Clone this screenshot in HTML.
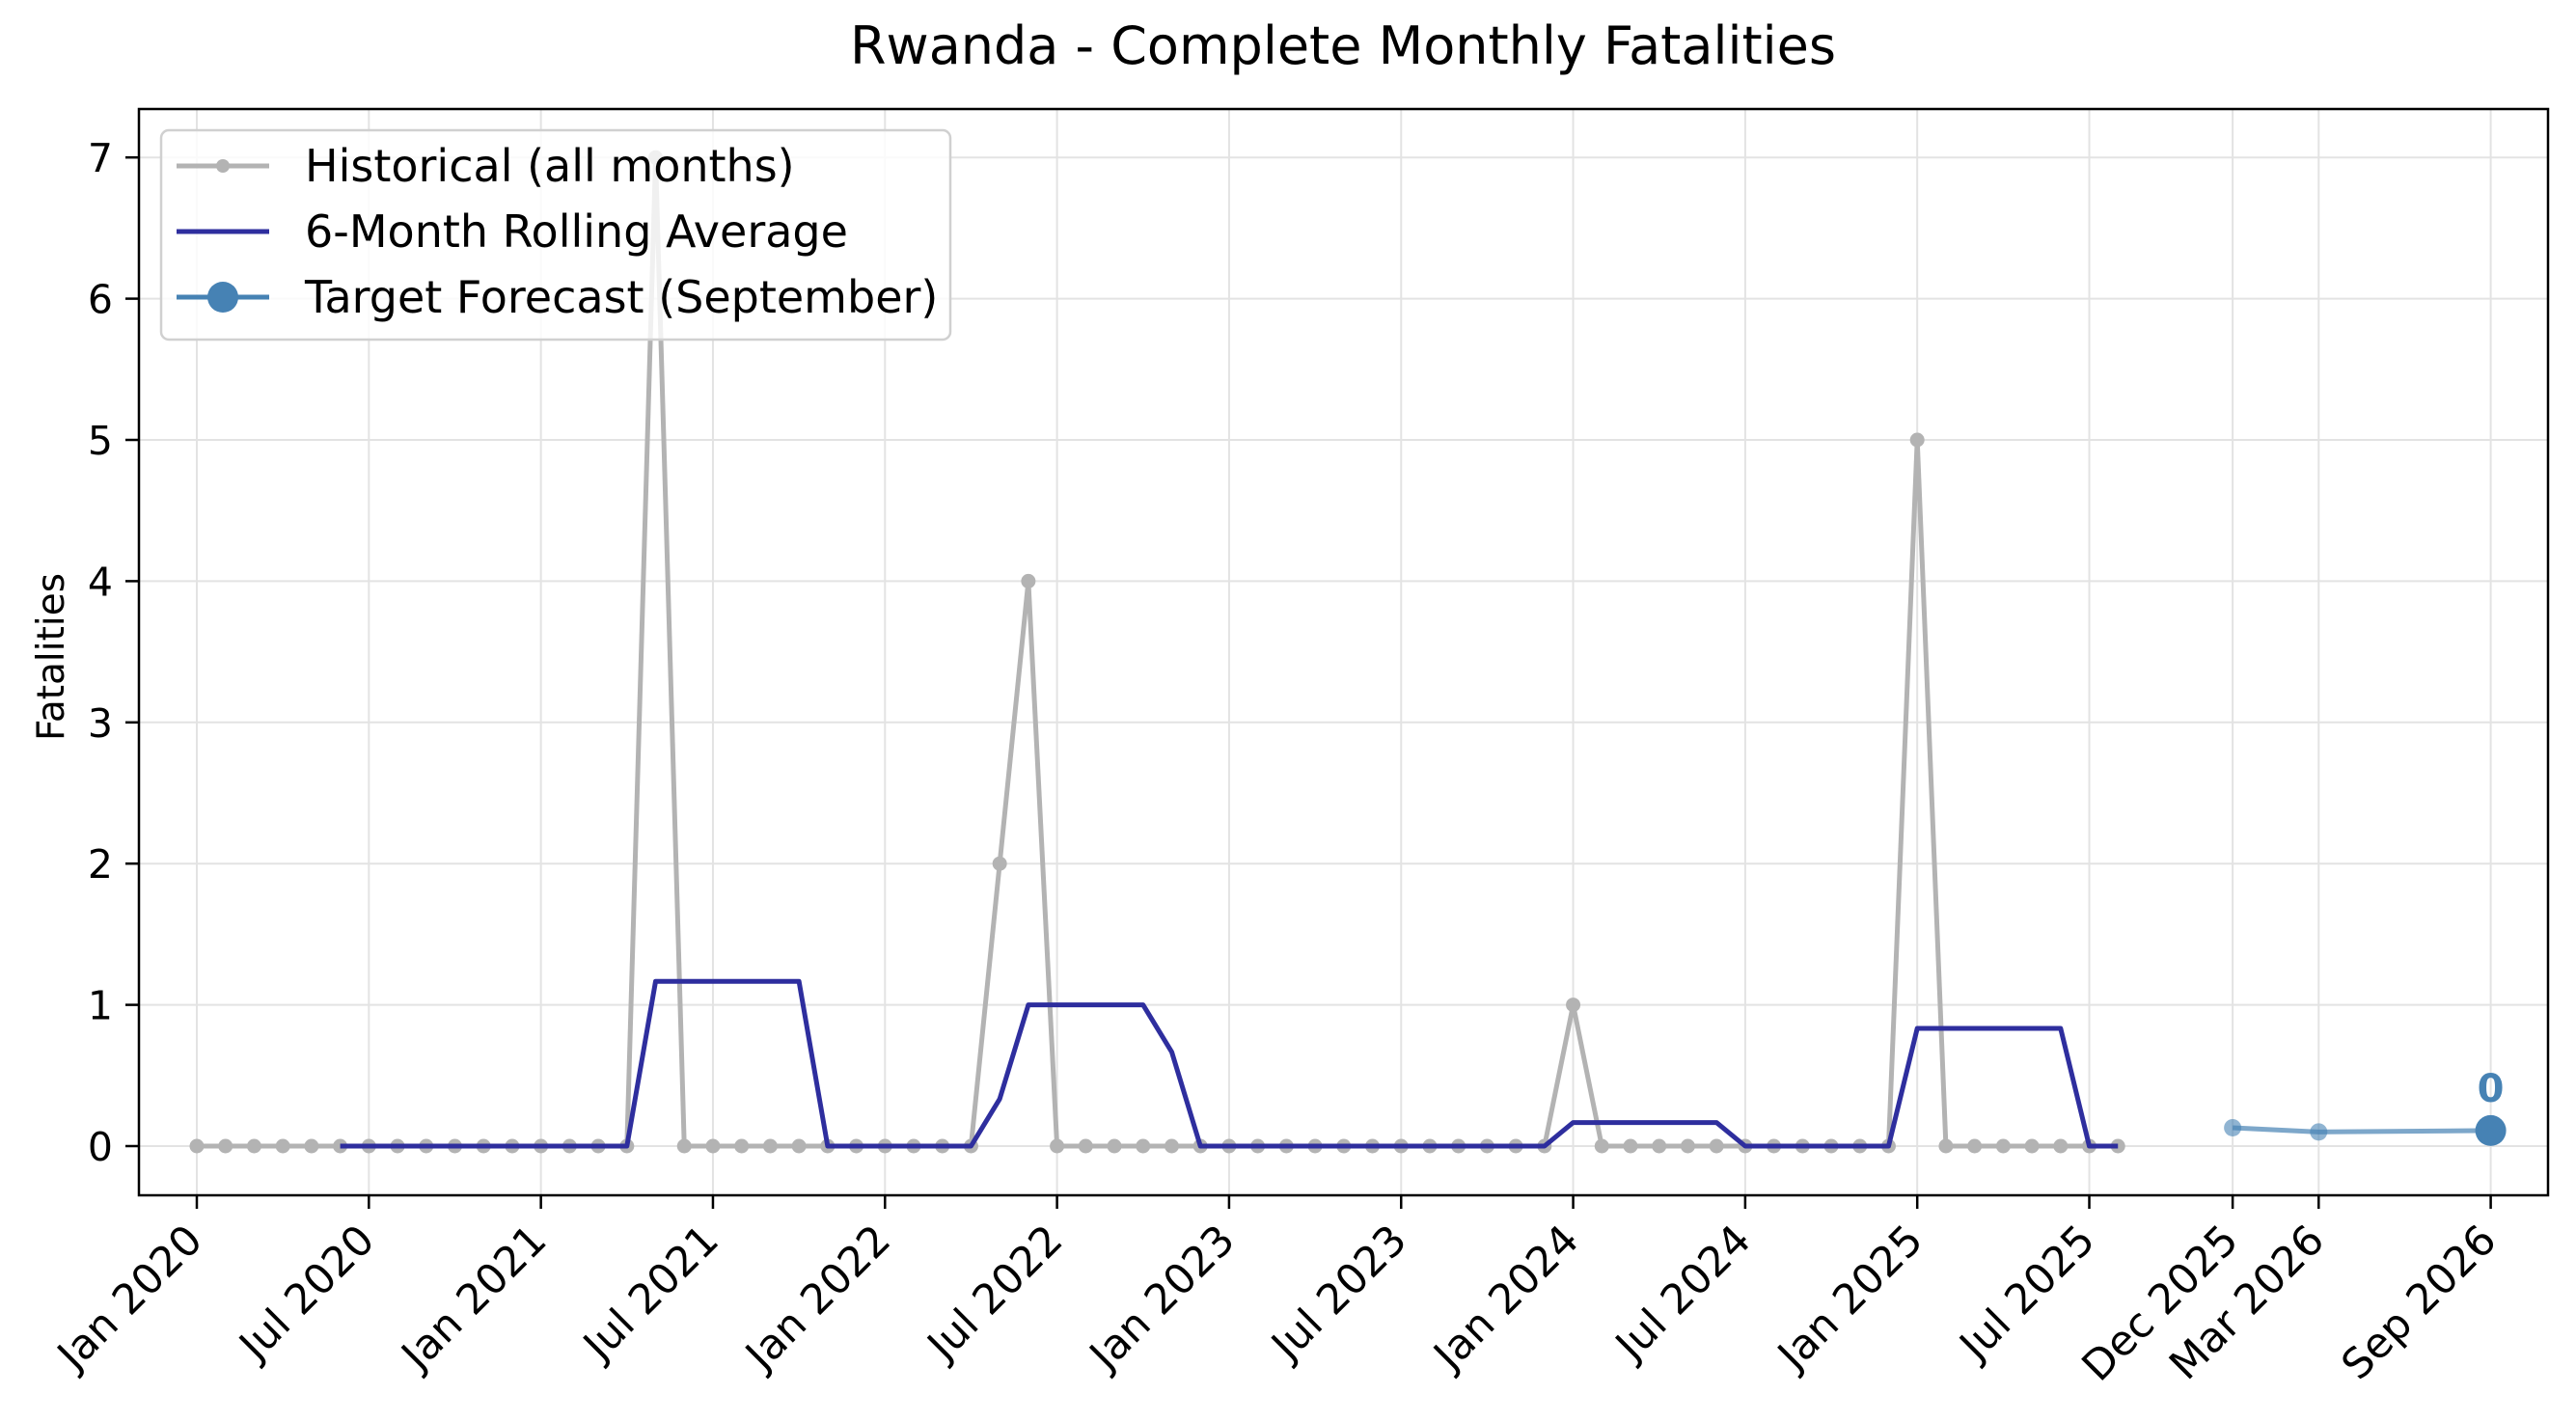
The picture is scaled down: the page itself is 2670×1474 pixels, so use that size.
<!DOCTYPE html>
<html><head><meta charset="utf-8"><style>
html,body{margin:0;padding:0;background:#fff;}
svg text{font-family:"DejaVu Sans","Liberation Sans",sans-serif;}
</style></head><body>
<svg id="chart" width="2670" height="1469" viewBox="0 0 2670 1469" xmlns="http://www.w3.org/2000/svg">
<rect width="2670" height="1469" fill="#fff"/>
<text x="1392" y="66" font-size="54" text-anchor="middle" fill="#000">Rwanda - Complete Monthly Fatalities</text>
<g id="grid"></g>
<g id="series"></g>
<rect x="144" y="113" width="2497" height="1126" fill="none" stroke="#000" stroke-width="2.5"/>
<g id="axes"></g>
<text x="0" y="0" font-size="39" text-anchor="middle" transform="translate(66,681) rotate(-90)">Fatalities</text>
<g>
<rect x="167" y="135" width="818" height="217" rx="8" fill="#fff" fill-opacity="0.8" stroke="#d0d0d0" stroke-width="2.5"/>
<g>
<line x1="183" y1="172" x2="279" y2="172" stroke="#b3b3b3" stroke-width="5"/>
<circle cx="231" cy="172" r="7" fill="#b3b3b3"/>
<text x="316" y="188" font-size="46">Historical (all months)</text></g>
<g>
<line x1="183" y1="240" x2="279" y2="240" stroke="#2e2e9e" stroke-width="5"/>
<text x="316" y="256" font-size="46">6-Month Rolling Average</text></g>
<g>
<line x1="183" y1="308" x2="279" y2="308" stroke="#4682b4" stroke-width="5"/>
<circle cx="231" cy="308" r="16" fill="#4682b4"/>
<text x="316" y="324" font-size="46">Target Forecast (September)</text></g>
</g>
</svg>
<script>
const historical = [0,0,0,0,0,0,0,0,0,0,0,0,0,0,0,0,7,0,0,0,0,0,0,0,0,0,0,0,2,4,0,0,0,0,0,0,0,0,0,0,0,0,0,0,0,0,0,0,1,0,0,0,0,0,0,0,0,0,0,0,5,0,0,0,0,0,0,0];
const forecastMonths = [71,74,80];
const forecastValues = [0.13,0.10,0.11];
const forecastLabel = "0";
const xTickMonths = [0,6,12,18,24,30,36,42,48,54,60,66,71,74,80];
const xTickLabels = ["Jan 2020","Jul 2020","Jan 2021","Jul 2021","Jan 2022","Jul 2022","Jan 2023","Jul 2023","Jan 2024","Jul 2024","Jan 2025","Jul 2025","Dec 2025","Mar 2026","Sep 2026"];
const yTicks = [0,1,2,3,4,5,6,7];

const NS="http://www.w3.org/2000/svg";
const X = m => 204 + m*29.72;
const Y = v => 1188 - v*146.4;
function mk(tag, attrs, parent){const e=document.createElementNS(NS,tag);for(const k in attrs)e.setAttribute(k,attrs[k]);parent.appendChild(e);return e;}
const grid=document.getElementById('grid'), series=document.getElementById('series'), axes=document.getElementById('axes');

xTickMonths.forEach((m,i)=>{
  const g=mk('line',{x1:X(m),x2:X(m),y1:113,y2:1239,stroke:'#e3e3e3','stroke-width':2},grid);
  
  
  const t=mk('line',{x1:X(m),x2:X(m),y1:1239,y2:1253,stroke:'#000','stroke-width':2.5},axes);
  
  
  const l=mk('text',{x:0,y:0,'font-size':43,'text-anchor':'end',transform:`translate(${X(m)+8},${1288}) rotate(-45)`},axes);
  l.textContent=xTickLabels[i];
  
  
});
yTicks.forEach(v=>{
  const g=mk('line',{x1:144,x2:2641,y1:Y(v),y2:Y(v),stroke:'#e3e3e3','stroke-width':2},grid);
  
  
  const t=mk('line',{x1:130,x2:144,y1:Y(v),y2:Y(v),stroke:'#000','stroke-width':2.5},axes);
  
  
  const l=mk('text',{x:117,y:Y(v)+15,'font-size':41,'text-anchor':'end'},axes);
  l.textContent=String(v);
  
  
});

const hp=mk('polyline',{points:historical.map((v,i)=>X(i)+','+Y(v)).join(' '),fill:'none',stroke:'#b3b3b3','stroke-width':5,'stroke-linejoin':'round'},series);


historical.forEach((v,i)=>{
  const c=mk('circle',{cx:X(i),cy:Y(v),r:7.5,fill:'#b3b3b3'},series);
  
  
});
const roll=[];
for(let i=5;i<historical.length;i++){let s=0;for(let j=i-5;j<=i;j++)s+=historical[j];roll.push([i,s/6]);}
const rp=mk('polyline',{points:roll.map(p=>X(p[0])+','+Y(p[1])).join(' '),fill:'none',stroke:'#2e2e9e','stroke-width':5,'stroke-linejoin':'round'},series);


const fp=mk('polyline',{points:forecastMonths.map((m,i)=>X(m)+','+Y(forecastValues[i])).join(' '),fill:'none',stroke:'#4682b4','stroke-width':5,'stroke-opacity':0.7},series);


forecastMonths.forEach((m,i)=>{
  const last=i===forecastMonths.length-1;
  const c=mk('circle',{cx:X(m),cy:Y(forecastValues[i]),r:last?16:9,fill:'#4682b4','fill-opacity':last?1:0.6},series);
  
  
});
const lm=forecastMonths[forecastMonths.length-1], lv=forecastValues[forecastValues.length-1];
const fl=mk('text',{x:X(lm),y:Y(lv)-30,'font-size':40,'font-weight':'bold','text-anchor':'middle',fill:'#4682b4'},series);
fl.textContent=forecastLabel;


</script>
</body></html>
